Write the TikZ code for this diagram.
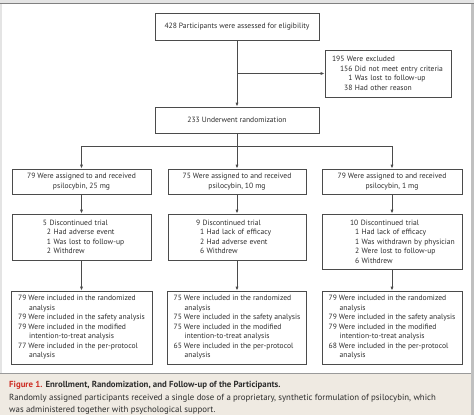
\documentclass[tikz,border=0pt]{standalone}
\usepackage{fontspec}
\setmainfont{PT Sans}
\usepackage{xcolor}
\usetikzlibrary{arrows.meta}
\definecolor{inkgray}{RGB}{75,75,75}
\definecolor{textgray}{RGB}{45,45,45}
\definecolor{capbeige}{RGB}{239,234,226}
\definecolor{figred}{RGB}{205,45,35}
\definecolor{framegray}{RGB}{228,228,228}
\definecolor{edgegray}{RGB}{192,192,192}
\newcommand{\subitm}[2][4pt]{\hspace*{#1}#2}
\newcommand{\cont}[1]{\hspace*{11pt}#1}

\begin{document}
\begin{tikzpicture}[x=1pt,y=-1pt,
    box/.style={draw=inkgray, line width=0.8pt, text=textgray,
        font=\fontsize{7.6}{9.5}\selectfont, inner sep=0pt},
    lbox/.style 2 args={box, align=left, text width=#1,
        execute at begin node={\leftskip=#2}},
    line/.style={draw=inkgray, line width=0.8pt},
    arr/.style={line, -{Latex[length=4pt,width=3.2pt]}},
    captext/.style={text=textgray, font=\fontsize{8.8}{13.5}\selectfont, inner sep=0pt}]
    \useasboundingbox (0,0) rectangle (474,415);

    % Frame
    \fill[framegray] (0,0) rectangle (474,415);
    \fill[white] (2,4) rectangle (471,373);
    \fill[edgegray] (471,4) rectangle (474,415);
    \draw[gray, line width=1pt] (0,3.5) -- (474,3.5);

    % Enrollment
    \node[box, minimum width=164pt, minimum height=27pt] (elig) at (237,26.5)
        {428 Participants were assessed for eligibility};
    \node[lbox={126pt}{7pt}, minimum height=47pt] (excl) at (388,73.5)
        {195 Were excluded\\
         \subitm[8pt]{156 Did not meet entry criteria}\\
         \subitm[8pt]{\hphantom{15}1 Was lost to follow-up}\\
         \subitm[8pt]{\hphantom{1}38 Had other reason}};
    \node[box, minimum width=164pt, minimum height=26pt] (rand) at (237,120)
        {233 Underwent randomization};

    % Allocation
    \node[box, align=center, minimum width=139pt, minimum height=25pt] (a25) at (81.5,181.5)
        {79 Were assigned to and received\\psilocybin, 25 mg};
    \node[box, align=center, minimum width=138pt, minimum height=25pt] (a10) at (237,181.5)
        {75 Were assigned to and received\\psilocybin, 10 mg};
    \node[box, align=center, minimum width=140pt, minimum height=25pt] (a1) at (392,181.5)
        {79 Were assigned to and received\\psilocybin, 1 mg};

    % Follow-up
    \node[lbox={139pt}{31pt}, minimum height=46pt] (d25) at (81.5,237)
        {5 Discontinued trial\\
         \subitm{2 Had adverse event}\\
         \subitm{1 Was lost to follow-up}\\
         \subitm{2 Withdrew}};
    \node[lbox={138pt}{28pt}, minimum height=46pt] (d10) at (237,237)
        {9 Discontinued trial\\
         \subitm{1 Had lack of efficacy}\\
         \subitm{2 Had adverse event}\\
         \subitm{6 Withdrew}};
    \node[lbox={140pt}{28pt}, minimum height=55pt] (d1) at (392,241.5)
        {10 Discontinued trial\\
         \subitm[5pt]{1 Had lack of efficacy}\\
         \subitm[5pt]{1 Was withdrawn by physician}\\
         \subitm[5pt]{2 Were lost to follow-up}\\
         \subitm[5pt]{6 Withdrew}};

    % Analysis
    \node[box, align=left, minimum width=141pt, minimum height=73pt] (r25) at (81.5,327.5)
        {79 Were included in the randomized\\ \cont{analysis}\\
         79 Were included in the safety analysis\\
         79 Were included in the modified\\ \cont{intention-to-treat analysis}\\
         77 Were included in the per-protocol\\ \cont{analysis}};
    \node[box, align=left, minimum width=139pt, minimum height=73pt] (r10) at (237,327.5)
        {75 Were included in the randomized\\ \cont{analysis}\\
         75 Were included in the safety analysis\\
         75 Were included in the modified\\ \cont{intention-to-treat analysis}\\
         65 Were included in the per-protocol\\ \cont{analysis}};
    \node[box, align=left, minimum width=140pt, minimum height=73pt] (r1) at (392,327.5)
        {79 Were included in the randomized\\ \cont{analysis}\\
         79 Were included in the safety analysis\\
         79 Were included in the modified\\ \cont{intention-to-treat analysis}\\
         68 Were included in the per-protocol\\ \cont{analysis}};

    % Connectors
    \draw[arr] (elig) -- (rand);
    \draw[arr] (elig.south |- excl.west) -- (excl.west);
    \coordinate (fork) at (237,146);
    \draw[line] (rand) -- (fork);
    \draw[arr] (fork) -| (a25);
    \draw[arr] (fork) -- (a10);
    \draw[arr] (fork) -| (a1);
    \foreach \dose in {25,10,1} {
        \draw[arr] (a\dose) -- (d\dose);
        \draw[arr] (d\dose) -- (r\dose);
    }

    % Caption
    \fill[capbeige] (0,374) rectangle (471,415);
    \draw[edgegray!80!black, line width=1.6pt] (0,373.5) -- (471,373.5);
    \node[captext, anchor=base west] (captitle) at (9,387)
        {\textbf{\color{figred}Figure 1.} \textbf{Enrollment, Randomization, and Follow-up of the Participants.}};
    \node[captext, anchor=base west] (capline) at (9,400.3)
        {Randomly assigned participants received a single dose of a proprietary, synthetic formulation of psilocybin, which};
    \node[captext, anchor=base west] (caplast) at (9,412.7)
        {was administered together with psychological support.};
\end{tikzpicture}
\end{document}
